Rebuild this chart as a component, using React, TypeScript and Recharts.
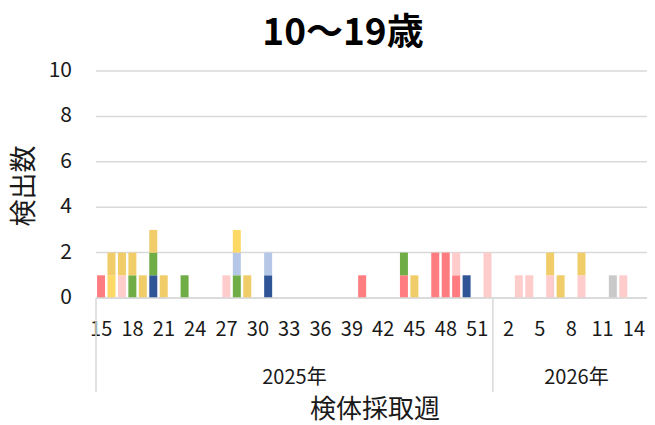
import { BarChart, Bar, XAxis, YAxis, CartesianGrid } from 'recharts';

// 検体採取週
const weeks2025 = [15, 16, 17, 18, 19, 20, 21, 22, 23, 24, 25, 26, 27, 28, 29, 30, 31, 32, 33, 34, 35, 36, 37, 38, 39, 40, 41, 42, 43, 44, 45, 46, 47, 48, 49, 50, 51, 52];
const weeks2026 = [1, 2, 3, 4, 5, 6, 7, 8, 9, 10, 11, 12, 13, 14, 15, 16];
const years = ['2025年', '2026年'];

// 検出数 (2025 w15 .. 2026 w16), stacked bottom -> top
const navy = [
  0, 0, 0, 0, 0, 1, 0, 0, 0, 0,
  0, 0, 0, 0, 0, 0, 1, 0, 0, 0,
  0, 0, 0, 0, 0, 0, 0, 0, 0, 0,
  0, 0, 0, 0, 0, 1, 0, 0, 0, 0,
  0, 0, 0, 0, 0, 0, 0, 0, 0, 0,
  0, 0, 0, 0,
];
const red = [
  1, 0, 0, 0, 0, 0, 0, 0, 0, 0,
  0, 0, 0, 0, 0, 0, 0, 0, 0, 0,
  0, 0, 0, 0, 0, 1, 0, 0, 0, 1,
  0, 0, 2, 2, 1, 0, 0, 0, 0, 0,
  0, 0, 0, 0, 0, 0, 0, 0, 0, 0,
  0, 0, 0, 0,
];
const green = [
  0, 0, 0, 1, 0, 1, 0, 0, 1, 0,
  0, 0, 0, 1, 0, 0, 0, 0, 0, 0,
  0, 0, 0, 0, 0, 0, 0, 0, 0, 1,
  0, 0, 0, 0, 0, 0, 0, 0, 0, 0,
  0, 0, 0, 0, 0, 0, 0, 0, 0, 0,
  0, 0, 0, 0,
];
const lightBlue = [
  0, 0, 0, 0, 0, 0, 0, 0, 0, 0,
  0, 0, 0, 1, 0, 0, 1, 0, 0, 0,
  0, 0, 0, 0, 0, 0, 0, 0, 0, 0,
  0, 0, 0, 0, 0, 0, 0, 0, 0, 0,
  0, 0, 0, 0, 0, 0, 0, 0, 0, 0,
  0, 0, 0, 0,
];
const pink = [
  0, 0, 1, 0, 0, 0, 0, 0, 0, 0,
  0, 0, 1, 0, 0, 0, 0, 0, 0, 0,
  0, 0, 0, 0, 0, 0, 0, 0, 0, 0,
  0, 0, 0, 0, 1, 0, 0, 2, 0, 0,
  1, 1, 0, 1, 0, 0, 1, 0, 0, 0,
  1, 0, 0, 0,
];
const yellow = [
  0, 1, 0, 0, 0, 0, 0, 0, 0, 0,
  0, 0, 0, 1, 0, 0, 0, 0, 0, 0,
  0, 0, 0, 0, 0, 0, 0, 0, 0, 0,
  0, 0, 0, 0, 0, 0, 0, 0, 0, 0,
  0, 0, 0, 0, 0, 0, 0, 0, 0, 0,
  0, 0, 0, 0,
];
const gold = [
  0, 1, 1, 1, 1, 1, 1, 0, 0, 0,
  0, 0, 0, 0, 1, 0, 0, 0, 0, 0,
  0, 0, 0, 0, 0, 0, 0, 0, 0, 0,
  1, 0, 0, 0, 0, 0, 0, 0, 0, 0,
  0, 0, 0, 1, 1, 0, 1, 0, 0, 0,
  0, 0, 0, 0,
];
const gray = [
  0, 0, 0, 0, 0, 0, 0, 0, 0, 0,
  0, 0, 0, 0, 0, 0, 0, 0, 0, 0,
  0, 0, 0, 0, 0, 0, 0, 0, 0, 0,
  0, 0, 0, 0, 0, 0, 0, 0, 0, 0,
  0, 0, 0, 0, 0, 0, 0, 0, 0, 1,
  0, 0, 0, 0,
];

const yTicks = [0, 2, 4, 6, 8, 10];

const series = [
  { key: 'navy', color: '#2F5597', values: navy },
  { key: 'red', color: '#FF7C80', values: red },
  { key: 'green', color: '#70AD47', values: green },
  { key: 'lightBlue', color: '#B4C7E7', values: lightBlue },
  { key: 'pink', color: '#FFCCCC', values: pink },
  { key: 'yellow', color: '#FFD966', values: yellow },
  { key: 'gold', color: '#F0CD69', values: gold },
  { key: 'gray', color: '#C9C9C9', values: gray },
];

const cats = [
  ...weeks2025.map((w) => ({ week: w, year: years[0] })),
  ...weeks2026.map((w) => ({ week: w, year: years[1] })),
];

const data = cats.map((c, i) => {
  const row: any = { id: `${c.year}-${c.week}`, week: c.week, year: c.year };
  series.forEach((s) => { row[s.key] = s.values[i]; });
  return row;
});

// year groups: first / last index
const groups = years.map((y) => {
  const first = data.findIndex((d) => d.year === y);
  let last = first;
  data.forEach((d, i) => { if (d.year === y) last = i; });
  return { label: y, first, last };
});

const W = 655;
const H = 417;
const M = { top: 63, right: 3, bottom: 0, left: 0 };
const Y_W = 88;
const X_H = 127;
const AXIS_Y = H - X_H;
const HALF = (W - M.right - Y_W) / data.length / 2;
const FONT = "'Noto Sans CJK JP', 'Noto Sans', sans-serif";
const LINE = '#D9D9D9';
const TXT = '#1a1a1a';

const WeekTick = (props: any) => {
  const { x, payload } = props;
  const i = props.index ?? payload.index;
  const d = data[i];
  const els: any[] = [];
  if (i % 3 === 0) {
    els.push(
      <text key="w" x={x} y={AXIS_Y + 29} textAnchor="middle" dominantBaseline="central" fontSize={20} fill={TXT}>
        {d.week}
      </text>
    );
  }
  groups.forEach((g) => {
    if (g.first === i) {
      els.push(<line key="s" x1={x - HALF} x2={x - HALF} y1={AXIS_Y} y2={AXIS_Y + 94} stroke={LINE} strokeWidth={1.5} />);
      els.push(
        <text key="y" x={x + (g.last - g.first) * HALF} y={AXIS_Y + 77} textAnchor="middle" dominantBaseline="central" fontSize={20} fill={TXT}>
          {g.label}
        </text>
      );
    }
    if (g.last === i && i === data.length - 1) {
      els.push(<line key="e" x1={x + HALF} x2={x + HALF} y1={AXIS_Y} y2={AXIS_Y + 94} stroke={LINE} strokeWidth={1.5} />);
    }
  });
  return <g>{els}</g>;
};

const CountTick = (props: any) => {
  const { y, payload } = props;
  return (
    <text x={Y_W - 24} y={y - 3} textAnchor="end" dominantBaseline="central" fontSize={21} fill={TXT}>
      {payload.value}
    </text>
  );
};

export default function App() {
  return (
    <div style={{ position: 'relative', width: 647, height: H, fontFamily: FONT, background: '#fff' }}>
      <div style={{ width: 647, height: H, overflow: 'hidden' }}>
        <BarChart width={W} height={H} data={data} margin={M} barCategoryGap="10%" style={{ fontFamily: FONT }}>
          <CartesianGrid vertical={false} stroke={LINE} strokeWidth={1.5} />
          <XAxis
            dataKey="id"
            interval={0}
            height={X_H}
            tickLine={false}
            axisLine={{ stroke: LINE, strokeWidth: 1.5 }}
            tick={<WeekTick />}
          />
          <YAxis
            width={Y_W}
            domain={[0, 10]}
            ticks={yTicks}
            axisLine={false}
            tickLine={false}
            tick={<CountTick />}
          />
          {series.map((s) => (
            <Bar key={s.key} dataKey={s.key} stackId="a" fill={s.color} isAnimationActive={false} />
          ))}
        </BarChart>
      </div>
      <div style={{ position: 'absolute', left: 335, top: 21, transform: 'translate(-50%, -50%)', fontSize: 37, fontWeight: 700, color: '#000', whiteSpace: 'nowrap', lineHeight: 1.1 }}>
        10～19歳
      </div>
      <div style={{ position: 'absolute', left: 367, top: 399, transform: 'translate(-50%, -50%)', fontSize: 26, color: TXT, whiteSpace: 'nowrap', lineHeight: 1.2 }}>
        検体採取週
      </div>
      <div style={{ position: 'absolute', left: 14, top: 178, transform: 'translate(-50%, -50%) rotate(-90deg)', fontSize: 27, color: TXT, whiteSpace: 'nowrap', lineHeight: 1.1 }}>
        検出数
      </div>
    </div>
  );
}
